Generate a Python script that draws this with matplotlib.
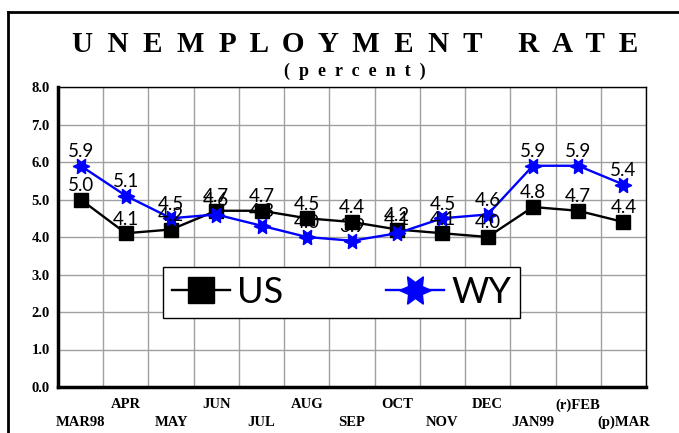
import matplotlib
matplotlib.use("Agg")
import matplotlib.pyplot as plt
from matplotlib.lines import Line2D
import numpy as np

months = ["MAR98", "APR", "MAY", "JUN", "JUL", "AUG", "SEP",
          "OCT", "NOV", "DEC", "JAN99", "(r)FEB", "(p)MAR"]
us = [5.0, 4.1, 4.2, 4.7, 4.7, 4.5, 4.4, 4.2, 4.1, 4.0, 4.8, 4.7, 4.4]
wy = [5.9, 5.1, 4.5, 4.6, 4.3, 4.0, 3.9, 4.1, 4.5, 4.6, 5.9, 5.9, 5.4]
yticks = np.arange(0, 9, 1.0)

serif = "Liberation Serif"
sans = "Lato"

fig = plt.figure(figsize=(6.79, 4.33), dpi=100)
ax = fig.add_axes([58 / 679, 1 - 387 / 433, 588 / 679, 300 / 433])

x = np.arange(len(months))
ax.plot(x, us, color="black", lw=1.7, marker="s", ms=9.5, label="US", zorder=3)
ax.plot(x, wy, color="#0000ff", lw=1.7, marker=(6, 1, 30), ms=12, label="WY", zorder=4)

for series in (us, wy):
    for xi, v in zip(x, series):
        ax.annotate(f"{v:.1f}", (xi, v), xytext=(0, 4), textcoords="offset points",
                    ha="center", va="bottom", fontsize=13.5, family=sans, zorder=5)

ax.set_xlim(-0.5, len(months) - 0.5)
ax.set_ylim(0, 8)
ax.set_yticks(yticks)
ax.set_yticklabels([f"{t:.1f}" for t in yticks], family=serif, fontsize=10.5,
                   fontweight="bold")
ax.set_xticks(np.arange(-0.5, len(months), 1.0))
ax.set_xticklabels([])
ax.tick_params(length=0, pad=6)
ax.grid(True, color="#a0a0a0", lw=1)
ax.set_axisbelow(True)

for i, m in enumerate(months):
    yy = -0.48 if i % 2 else -0.95
    ax.text(i, yy, m, ha="center", va="center", family=serif, fontsize=10.5,
            fontweight="bold", clip_on=False)

for s in ["top", "right"]:
    ax.spines[s].set_linewidth(1)
for s in ["left", "bottom"]:
    ax.spines[s].set_linewidth(2.5)

leg = ax.legend(loc="lower left", bbox_to_anchor=(0.179, 0.23, 0.607, 0.168),
                mode="expand", ncol=2, fancybox=False, edgecolor="black",
                framealpha=1, prop={"family": sans, "size": 26},
                markerscale=1.9, handlelength=1.6, borderpad=0.25, borderaxespad=0,
                handletextpad=0.2, columnspacing=2.0)
leg.get_frame().set_linewidth(1)

fig.text(0.523, 1 - 44 / 433, "U  N  E  M  P  L  O  Y  M  E  N  T     R  A  T  E",
         ha="center", va="center", family=serif, fontweight="bold", fontsize=21)
fig.text(0.523, 1 - 71 / 433, "(  p  e  r  c  e  n  t  )", ha="center", va="center",
         family=serif, fontweight="bold", fontsize=13)

fig.add_artist(Line2D([8 / 679, 8 / 679], [0, 1 - 12 / 433], color="black", lw=2))
fig.add_artist(Line2D([8 / 679, 1], [1 - 12 / 433, 1 - 12 / 433], color="black", lw=2))

fig.savefig("out.png", dpi=100)
